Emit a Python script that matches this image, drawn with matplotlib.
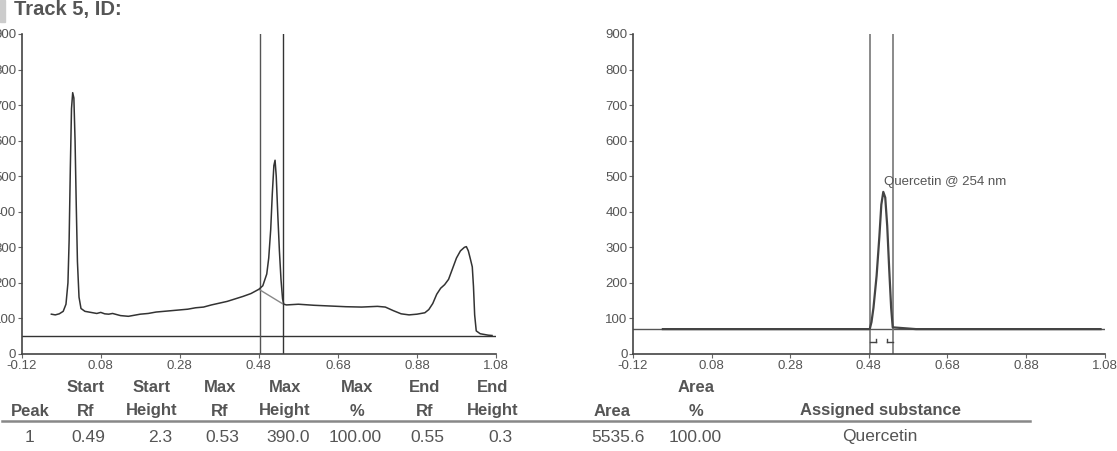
import matplotlib.pyplot as plt
from matplotlib.patches import Rectangle

plt.rcParams['font.family'] = ['Liberation Sans', 'DejaVu Sans']

# left chromatogram, raw trace (Rf, AU)
raw_rf = [-0.045, -0.035, -0.025, -0.015, -0.008, -0.003, 0.000, 0.003, 0.006, 0.009,
          0.012, 0.015, 0.018, 0.021, 0.025, 0.030, 0.040, 0.050, 0.060, 0.070,
          0.080, 0.090, 0.100, 0.110, 0.120, 0.130, 0.140, 0.150, 0.160, 0.170,
          0.180, 0.200, 0.220, 0.240, 0.260, 0.280, 0.300, 0.320, 0.340, 0.360,
          0.380, 0.400, 0.420, 0.440, 0.460, 0.470, 0.480, 0.490, 0.500, 0.505,
          0.510, 0.514, 0.518, 0.521, 0.524, 0.528, 0.532, 0.536, 0.540, 0.543,
          0.550, 0.580, 0.620, 0.660, 0.700, 0.740, 0.780, 0.800, 0.820, 0.840,
          0.860, 0.880, 0.900, 0.910, 0.920, 0.930, 0.940, 0.950, 0.960, 0.970,
          0.980, 0.990, 1.000, 1.005, 1.010, 1.015, 1.020, 1.023, 1.026, 1.030,
          1.040, 1.050, 1.060, 1.070]
raw_au = [112, 110, 113, 120, 140, 200, 320, 520, 690, 735,
          720, 600, 420, 260, 160, 128, 120, 118, 116, 114,
          117, 113, 112, 114, 111, 108, 107, 106, 108, 110,
          112, 114, 118, 120, 122, 124, 126, 130, 132, 138,
          143, 148, 155, 162, 170, 176, 182, 192, 225, 270,
          350, 450, 530, 545, 500, 390, 290, 210, 155, 140,
          138, 140, 137, 135, 133, 132, 134, 132, 122, 113,
          110, 112, 116, 125, 142, 168, 185, 195, 210, 240,
          270, 290, 300, 302, 290, 268, 245, 190, 110, 65,
          57, 55, 53, 52]

# right chromatogram, baseline corrected (Rf, AU)
corr_rf = [-0.044, 0.20, 0.4825, 0.487, 0.492, 0.500, 0.507, 0.512, 0.517, 0.522,
           0.527, 0.532, 0.537, 0.541, 0.60, 1.07]
corr_au = [70, 70, 70, 90, 130, 220, 330, 420, 456, 440,
           360, 240, 130, 75, 70, 70]

peak_start = 0.483
peak_end = 0.542
left_baseline = 50
right_baseline = 70
peak_base_au = [180, 140]
label_y = 35

x_ticks = [-0.12, 0.08, 0.28, 0.48, 0.68, 0.88, 1.08]
y_ticks = [0, 100, 200, 300, 400, 500, 600, 700, 800, 900]

# table
head_x = [30, 86, 152, 220, 285, 357, 425, 493, 612, 696, 880]
row_x = [30, 88, 160, 222, 288, 355, 427, 500, 618, 695, 880]
head_1 = ['', 'Start', 'Start', 'Max', 'Max', 'Max', 'End', 'End', '', 'Area', '']
head_2 = ['Peak', 'Rf', 'Height', 'Rf', 'Height', '%', 'Rf', 'Height', 'Area', '%',
          'Assigned substance']
row_1 = ['1', '0.49', '2.3', '0.53', '390.0', '100.00', '0.55', '0.3', '5535.6',
         '100.00', 'Quercetin']

W, H = 1117, 451
fig = plt.figure(figsize=(W / 100, H / 100), dpi=100)

grey = '#555555'


def style(ax):
    ax.set_xlim(-0.12, 1.08)
    ax.set_ylim(0, 900)
    ax.set_xticks(x_ticks)
    ax.set_xticklabels(['%.2f' % t for t in x_ticks])
    ax.set_yticks(y_ticks)
    for s in ['top', 'right']:
        ax.spines[s].set_visible(False)
    for s in ['left', 'bottom']:
        ax.spines[s].set_color('#444444')
        ax.spines[s].set_linewidth(1.2)
    ax.tick_params(length=3, width=0.8, color='#666666', labelcolor=grey,
                   labelsize=9.5, pad=1)


ax1 = fig.add_axes([21.7 / W, 1 - 354 / H, 474.3 / W, 320 / H])
style(ax1)
ax1.axhline(left_baseline, color='#333333', lw=1)
ax1.axvline(peak_start, color='#555555', lw=1)
ax1.axvline(peak_end, color='#333333', lw=1)
ax1.plot([peak_start, peak_end], peak_base_au, color='#888888', lw=1)
ax1.plot(raw_rf, raw_au, color='#333333', lw=1.1)

ax2 = fig.add_axes([633 / W, 1 - 354 / H, 471.5 / W, 320 / H])
style(ax2)
ax2.axhline(right_baseline, color='#555555', lw=1)
ax2.axvline(peak_start, color='#777777', lw=1.2)
ax2.axvline(peak_end, color='#777777', lw=1.2)
ax2.plot(corr_rf, corr_au, color='#444444', lw=1.6)
# integration bracket
ax2.plot([peak_start, peak_start + 0.015], [label_y, label_y], color='#444444', lw=1)
ax2.plot([peak_end - 0.015, peak_end], [label_y, label_y], color='#444444', lw=1)
ax2.plot([peak_start + 0.015, peak_start + 0.015], [label_y, label_y + 8], color='#444444', lw=1)
ax2.plot([peak_end - 0.015, peak_end - 0.015], [label_y, label_y + 8], color='#444444', lw=1)
ax2.text(0.52, 484, 'Quercetin @ 254 nm', fontsize=9.5, color=grey,
         va='center', ha='left')

# title
fig.patches.append(Rectangle((0, 1 - 22 / H), 5 / W, 22 / H, transform=fig.transFigure,
                             color='#cccccc'))
fig.text(14 / W, 1 - 10 / H, 'Track 5, ID:', fontsize=14.5, fontweight='bold',
         color=grey, va='center', ha='left')

# table
for hx, rx, a, b, c in zip(head_x, row_x, head_1, head_2, row_1):
    fig.text(hx / W, 1 - 388 / H, a, fontsize=12, fontweight='bold', color=grey,
             ha='center', va='center')
    fig.text(hx / W, 1 - 411 / H, b, fontsize=12, fontweight='bold', color=grey,
             ha='center', va='center')
    fig.text(rx / W, 1 - 437 / H, c, fontsize=12.5, color=grey, ha='center', va='center')
fig.add_artist(plt.Line2D([2 / W, 1030 / W], [1 - 420.5 / H, 1 - 420.5 / H],
                          transform=fig.transFigure, color='#888888', lw=1.8))

fig.savefig('out.png', dpi=100)
